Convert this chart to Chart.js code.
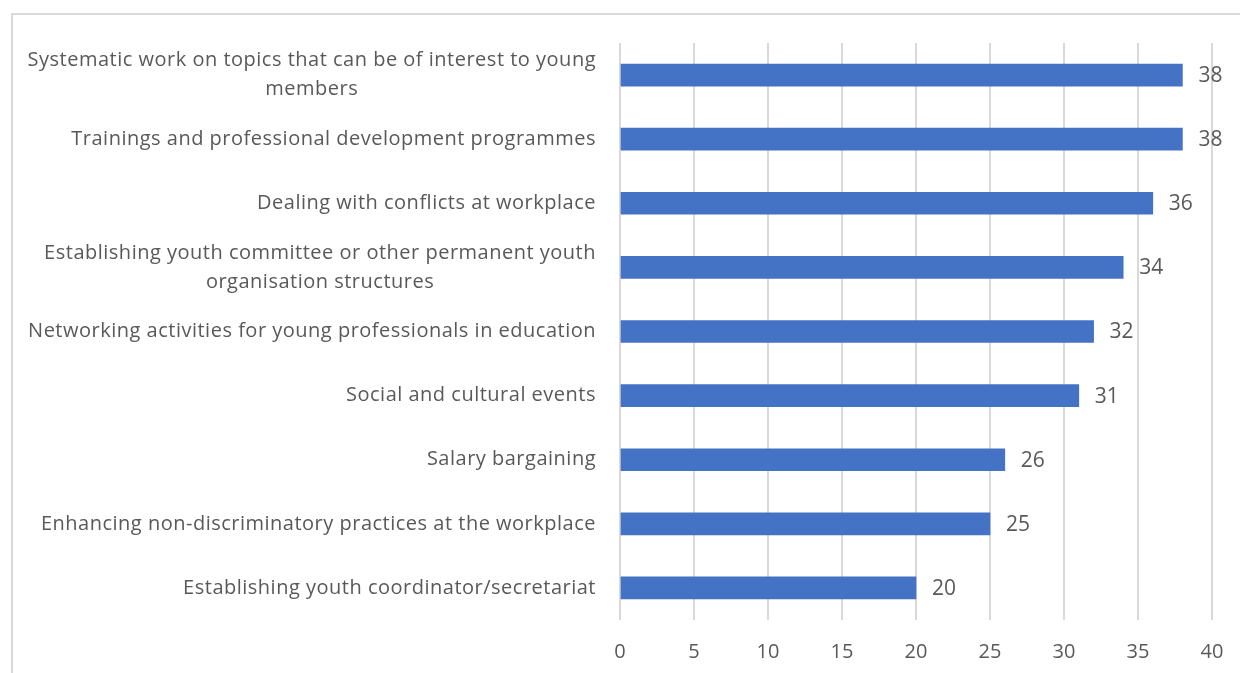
<!DOCTYPE html>
<html>
<head>
<meta charset="utf-8">
<script src="https://cdn.jsdelivr.net/npm/chart.js@4.4.1/dist/chart.umd.min.js"></script>
<style>
    html, body { margin: 0; padding: 0; background: #fff; }
    #wrap { position: relative; width: 1240px; height: 673px; overflow: hidden; }
    #frame { position: absolute; left: 11px; top: 13px; width: 1300px; height: 800px; border: 2px solid #d9d9d9; box-sizing: border-box; }
    #chart { position: absolute; left: 0; top: 0; }
</style>
</head>
<body>
<div id="wrap">
    <div id="frame"></div>
    <canvas id="chart" width="1240" height="673"></canvas>
</div>
<script>
// 数据
const categories = [
    ['Systematic work on topics that can be of interest to young', 'members'],
    ['Trainings and professional development programmes'],
    ['Dealing with conflicts at workplace'],
    ['Establishing youth committee or other permanent youth', 'organisation structures'],
    ['Networking activities for young professionals in education'],
    ['Social and cultural events'],
    ['Salary bargaining'],
    ['Enhancing non-discriminatory practices at the workplace'],
    ['Establishing youth coordinator/secretariat']
];
const values = [38, 38, 36, 34, 32, 31, 26, 25, 20];
const xTicks = [0, 5, 10, 15, 20, 25, 30, 35, 40];

const textColor = '#595959';
const fontFamily = '"Open Sans", "Liberation Sans", sans-serif';

// 左侧类别标签（多行时居中）
const categoryLabels = {
    id: 'categoryLabels',
    afterDraw(chart) {
        const ctx = chart.ctx;
        const yScale = chart.scales.y;
        const right = chart.chartArea.left - 24;
        const lineH = 29;
        ctx.save();
        ctx.font = `20px ${fontFamily}`;
        ctx.letterSpacing = '0.5px';
        ctx.fillStyle = textColor;
        ctx.textAlign = 'center';
        ctx.textBaseline = 'middle';
        categories.forEach((lines, i) => {
            const cy = yScale.getPixelForValue(i);
            const w = Math.max(...lines.map(l => ctx.measureText(l).width));
            const cx = right - w / 2;
            lines.forEach((l, j) => {
                ctx.fillText(l, cx, cy + (j - (lines.length - 1) / 2) * lineH);
            });
        });
        ctx.restore();
    }
};

// 数值标签
const valueLabels = {
    id: 'valueLabels',
    afterDatasetsDraw(chart) {
        const ctx = chart.ctx;
        const meta = chart.getDatasetMeta(0);
        ctx.save();
        ctx.font = `21px ${fontFamily}`;
        ctx.fillStyle = textColor;
        ctx.textAlign = 'left';
        ctx.textBaseline = 'middle';
        meta.data.forEach((bar, i) => {
            ctx.fillText(String(values[i]), bar.x + 16, bar.y + 1);
        });
        ctx.restore();
    }
};

new Chart(document.getElementById('chart'), {
    type: 'bar',
    data: {
        labels: categories.map(c => c.join(' ')),
        datasets: [{
            data: values,
            backgroundColor: '#4472C4',
            barThickness: 22
        }]
    },
    options: {
        indexAxis: 'y',
        responsive: false,
        animation: false,
        layout: { padding: { left: 0, right: 28, top: 43, bottom: 0 } },
        plugins: {
            legend: { display: false },
            tooltip: { enabled: false }
        },
        scales: {
            x: {
                min: 0,
                max: 40,
                afterBuildTicks: s => { s.ticks = xTicks.map(v => ({ value: v })); },
                afterFit: s => { s.height = 53; s.paddingRight = 0; s.paddingLeft = 0; },
                grid: { color: '#d9d9d9', lineWidth: 2, drawTicks: false },
                border: { display: false },
                ticks: {
                    color: textColor,
                    padding: 20,
                    font: { family: fontFamily, size: 20 }
                }
            },
            y: {
                afterFit: s => { s.width = 620; },
                grid: { display: false },
                border: { display: false },
                ticks: { display: false }
            }
        }
    },
    plugins: [categoryLabels, valueLabels]
});
</script>
</body>
</html>
